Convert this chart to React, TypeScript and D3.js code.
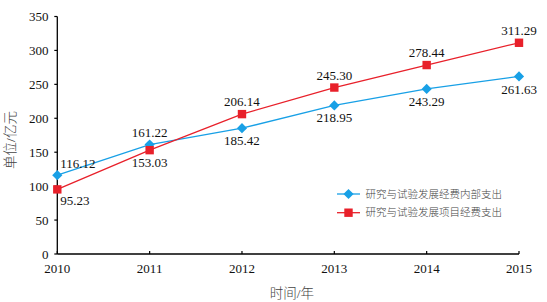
import React from "react";
import * as d3 from "d3";

const years = [2010, 2011, 2012, 2013, 2014, 2015];
const internalSpend = [116.12, 161.22, 185.42, 218.95, 243.29, 261.63];
const projectSpend = [95.23, 153.03, 206.14, 245.3, 278.44, 311.29];
const yTicks = [0, 50, 100, 150, 200, 250, 300, 350];
const seriesNames = ["研究与试验发展经费内部支出", "研究与试验发展项目经费支出"];

const W = 547, H = 302;
const BLUE = "#18a0e6";
const RED = "#e8202a";
const SERIF = "'Liberation Serif', 'Times New Roman', 'Noto Sans CJK SC', serif";

export default function App() {
  const x = d3.scaleLinear().domain([2010, 2015]).range([57.3, 519]);
  const y = d3.scaleLinear().domain([0, 350]).range([254, 16.5]);
  const line = d3.line<number>().x((_, i) => x(years[i])).y((v) => y(v));

  // label placement: upper point above, lower below; first year starts right of the point
  const labelPos = (i: number, v: number, other: number) => {
    const above = v >= other;
    if (i === 0) {
      return { x: x(years[i]) + 3, y: y(v) + (above ? -12 : 11), anchor: "start" };
    }
    return { x: x(years[i]), y: y(v) + (above ? -12.5 : 12.5), anchor: "middle" };
  };

  return (
    <svg width={W} height={H} style={{ position: "absolute", left: 0, top: 0, background: "#fff" }}>
      {/* axes */}
      <line x1={x(2010)} x2={x(2010)} y1={y(0)} y2={y(350)} stroke="#000" strokeWidth={1.3} />
      <line x1={x(2010)} x2={x(2015)} y1={y(0)} y2={y(0)} stroke="#000" strokeWidth={1.3} />
      {yTicks.map((t) => (
        <g key={t}>
          <line x1={x(2010) - 3} x2={x(2010)} y1={y(t)} y2={y(t)} stroke="#000" strokeWidth={1.2} />
          <text x={48.5} y={y(t)} dy="0.35em" textAnchor="end" fontFamily={SERIF} fontSize={13} fill="#111">
            {t}
          </text>
        </g>
      ))}
      {years.map((yr) => (
        <g key={yr}>
          <line x1={x(yr)} x2={x(yr)} y1={y(0)} y2={y(0) - 3} stroke="#000" strokeWidth={1.2} />
          <text x={x(yr)} y={268} dy="0.35em" textAnchor="middle" fontFamily={SERIF} fontSize={13} fill="#111">
            {yr}
          </text>
        </g>
      ))}
      <text x={292} y={293} dy="0.35em" textAnchor="middle" fontFamily={SERIF} fontSize={13.5} fontWeight={300} fill="#444">
        时间/年
      </text>
      <text
        transform={`translate(10, 140) rotate(-90)`}
        dy="0.35em"
        textAnchor="middle"
        fontFamily={SERIF}
        fontSize={13.5}
        fontWeight={300}
        fill="#444"
      >
        单位/亿元
      </text>

      {/* lines */}
      <path d={line(internalSpend) || ""} fill="none" stroke={BLUE} strokeWidth={1.3} />
      <path d={line(projectSpend) || ""} fill="none" stroke={RED} strokeWidth={1.3} />

      {/* markers */}
      {internalSpend.map((v, i) => (
        <rect
          key={"b" + i}
          x={-3.6}
          y={-3.6}
          width={7.2}
          height={7.2}
          fill={BLUE}
          transform={`translate(${x(years[i])},${y(v)}) rotate(45)`}
        />
      ))}
      {projectSpend.map((v, i) => (
        <rect key={"r" + i} x={x(years[i]) - 4.2} y={y(v) - 4.2} width={8.4} height={8.4} fill={RED} />
      ))}

      {/* data labels */}
      {internalSpend.map((v, i) => {
        const p = labelPos(i, v, projectSpend[i]);
        return (
          <text key={"bl" + i} x={p.x} y={p.y} dy="0.35em" textAnchor={p.anchor} fontFamily={SERIF} fontSize={13} fill="#111">
            {v.toFixed(2)}
          </text>
        );
      })}
      {projectSpend.map((v, i) => {
        const p = labelPos(i, v, internalSpend[i]);
        return (
          <text key={"rl" + i} x={p.x} y={p.y} dy="0.35em" textAnchor={p.anchor} fontFamily={SERIF} fontSize={13} fill="#111">
            {v.toFixed(2)}
          </text>
        );
      })}

      {/* legend */}
      {seriesNames.map((name, i) => {
        const ly = 194 + i * 18.7;
        const c = i === 0 ? BLUE : RED;
        return (
          <g key={name}>
            <line x1={337} x2={360} y1={ly} y2={ly} stroke={c} strokeWidth={1.3} />
            {i === 0 ? (
              <rect x={-3.6} y={-3.6} width={7.2} height={7.2} fill={c} transform={`translate(348.5,${ly}) rotate(45)`} />
            ) : (
              <rect x={348.5 - 4.2} y={ly - 4.2} width={8.4} height={8.4} fill={c} />
            )}
            <text x={365.5} y={ly} dy="0.35em" fontFamily={SERIF} fontSize={10.5} fontWeight={300} fill="#444">
              {name}
            </text>
          </g>
        );
      })}
    </svg>
  );
}
